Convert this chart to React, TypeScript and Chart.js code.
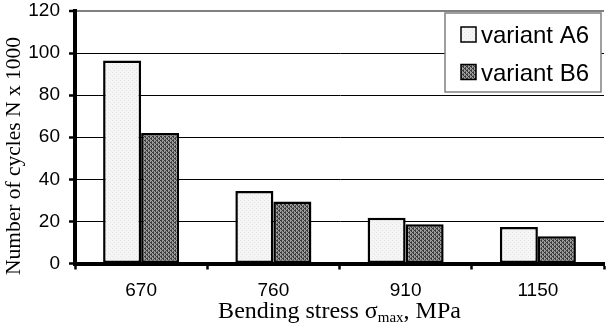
import React, { useEffect, useRef } from "react";
import { Chart, registerables } from "chart.js";

Chart.register(...registerables);

const categories = ["670", "760", "910", "1150"];
const seriesNames = ["variant A6", "variant B6"];
const variantA6 = [96.5, 34.5, 21.7, 17.4];
const variantB6 = [62, 29.5, 18.7, 13];
const yTicks = [0, 20, 40, 60, 80, 100, 120];
const xTitleParts = ["Bending stress σ", "max", ", MPa"];
const yTitle = "Number of cycles N x 1000";

function makePattern(kind: "light" | "dark"): CanvasPattern | string {
  const c = document.createElement("canvas");
  c.width = 4;
  c.height = 4;
  const g = c.getContext("2d");
  if (!g) return kind === "light" ? "#f2f2f2" : "#6a6a6a";
  if (kind === "light") {
    g.fillStyle = "#f5f5f5";
    g.fillRect(0, 0, 4, 4);
    g.fillStyle = "#e4e4e4";
    g.fillRect(0, 0, 1, 1);
    g.fillRect(2, 2, 1, 1);
  } else {
    g.fillStyle = "#9c9c9c";
    g.fillRect(0, 0, 4, 4);
    g.fillStyle = "#3a3a3a";
    g.fillRect(0, 0, 2, 1);
    g.fillRect(2, 2, 2, 1);
    g.fillRect(1, 1, 1, 1);
    g.fillRect(3, 3, 1, 1);
    g.fillStyle = "#555555";
    g.fillRect(3, 1, 1, 1);
    g.fillRect(1, 3, 1, 1);
  }
  const p = g.createPattern(c, "repeat");
  return p || (kind === "light" ? "#f2f2f2" : "#6a6a6a");
}

export default function App() {
  const ref = useRef<HTMLCanvasElement | null>(null);

  useEffect(() => {
    if (!ref.current) return;
    const light = makePattern("light");
    const dark = makePattern("dark");
    const fills = [light, dark];

    const overlay = {
      id: "overlay",
      afterDraw(chart: any) {
        const ctx = chart.ctx;
        const area = chart.chartArea;
        ctx.save();
        // legend box
        const lx = 445, ly = 13, lw = 156, lh = 79;
        ctx.fillStyle = "#ffffff";
        ctx.fillRect(lx, ly, lw, lh);
        ctx.strokeStyle = "#808080";
        ctx.lineWidth = 1.5;
        ctx.strokeRect(lx, ly, lw, lh);
        const rows = [
          { top: 27, base: 43 },
          { top: 64.5, base: 81 },
        ];
        ctx.font = "24px 'Liberation Sans', Arial, sans-serif";
        ctx.textBaseline = "alphabetic";
        ctx.textAlign = "left";
        seriesNames.forEach((name, i) => {
          const r = rows[i];
          ctx.fillStyle = fills[i] as any;
          ctx.fillRect(461, r.top, 15, 15);
          ctx.strokeStyle = "#000000";
          ctx.lineWidth = 1.5;
          ctx.strokeRect(461, r.top, 15, 15);
          ctx.fillStyle = "#000000";
          ctx.fillText(name, 481, r.base);
        });

        // y title
        ctx.save();
        ctx.translate(14, 156);
        ctx.rotate(-Math.PI / 2);
        ctx.font = "21.5px 'Liberation Serif', 'Times New Roman', serif";
        ctx.textAlign = "center";
        ctx.textBaseline = "middle";
        ctx.fillStyle = "#000000";
        ctx.fillText(yTitle, 0, 0);
        ctx.restore();

        // x title with subscript
        const mainFont = "24px 'Liberation Serif', 'Times New Roman', serif";
        const subFont = "15px 'Liberation Serif', 'Times New Roman', serif";
        ctx.font = mainFont;
        const w0 = ctx.measureText(xTitleParts[0]).width;
        const w2 = ctx.measureText(xTitleParts[2]).width;
        ctx.font = subFont;
        const w1 = ctx.measureText(xTitleParts[1]).width;
        const total = w0 + w1 + w2;
        const cx = (area.left + area.right) / 2;
        let x = cx - total / 2;
        const base = 318;
        ctx.textAlign = "left";
        ctx.textBaseline = "alphabetic";
        ctx.fillStyle = "#000000";
        ctx.font = mainFont;
        ctx.fillText(xTitleParts[0], x, base);
        x += w0;
        ctx.font = subFont;
        ctx.fillText(xTitleParts[1], x, base + 4);
        x += w1;
        ctx.font = mainFont;
        ctx.fillText(xTitleParts[2], x, base);
        ctx.restore();
      },
    };

    const chart = new Chart(ref.current, {
      type: "bar",
      data: {
        labels: categories,
        datasets: [
          {
            label: seriesNames[0],
            data: variantA6,
            backgroundColor: light as any,
            borderColor: "#000000",
            borderWidth: 2.5,
            borderSkipped: false,
          },
          {
            label: seriesNames[1],
            data: variantB6,
            backgroundColor: dark as any,
            borderColor: "#000000",
            borderWidth: 2.5,
            borderSkipped: false,
          },
        ],
      },
      options: {
        responsive: false,
        animation: false,
        devicePixelRatio: 1,
        layout: { padding: { top: 11, right: 3, left: 0, bottom: 0 } },
        plugins: {
          legend: { display: false },
          tooltip: { enabled: false },
          title: { display: false },
        },
        datasets: {
          bar: { categoryPercentage: 0.575, barPercentage: 1 },
        },
        scales: {
          x: {
            offset: true,
            afterFit: (scale: any) => {
              scale.height = 68.5;
            },
            grid: {
              offset: true,
              drawOnChartArea: false,
              drawTicks: true,
              tickLength: 6,
              tickWidth: 2.5,
              tickColor: "#000000",
            },
            border: { display: true, color: "#000000", width: 4 },
            ticks: {
              color: "#000000",
              font: { family: "'Liberation Sans', Arial, sans-serif", size: 19 },
              padding: 10,
              maxRotation: 0,
            },
          },
          y: {
            min: 0,
            max: 120,
            afterFit: (scale: any) => {
              scale.width = 75;
              scale.paddingTop = 0;
              scale.paddingBottom = 0;
            },
            afterBuildTicks: (scale: any) => {
              scale.ticks = yTicks.map((v) => ({ value: v }));
            },
            grid: {
              color: (c: any) => (c.tick && c.tick.value === 120 ? "#808080" : "#000000"),
              lineWidth: (c: any) => (c.tick && c.tick.value === 120 ? 2 : 1),
              drawTicks: true,
              tickLength: 6,
              tickWidth: 2.5,
              tickColor: "#000000",
            },
            border: { display: true, color: "#000000", width: 4 },
            ticks: {
              color: "#000000",
              font: { family: "'Liberation Sans', Arial, sans-serif", size: 19 },
              padding: 9,
            },
          },
        },
      },
      plugins: [overlay],
    });
    return () => chart.destroy();
  }, []);

  return (
    <div style={{ position: "fixed", left: 0, top: 0, width: 607, height: 332, background: "#ffffff" }}>
      <canvas ref={ref} width={607} height={332} style={{ display: "block", width: 607, height: 332 }} />
    </div>
  );
}
